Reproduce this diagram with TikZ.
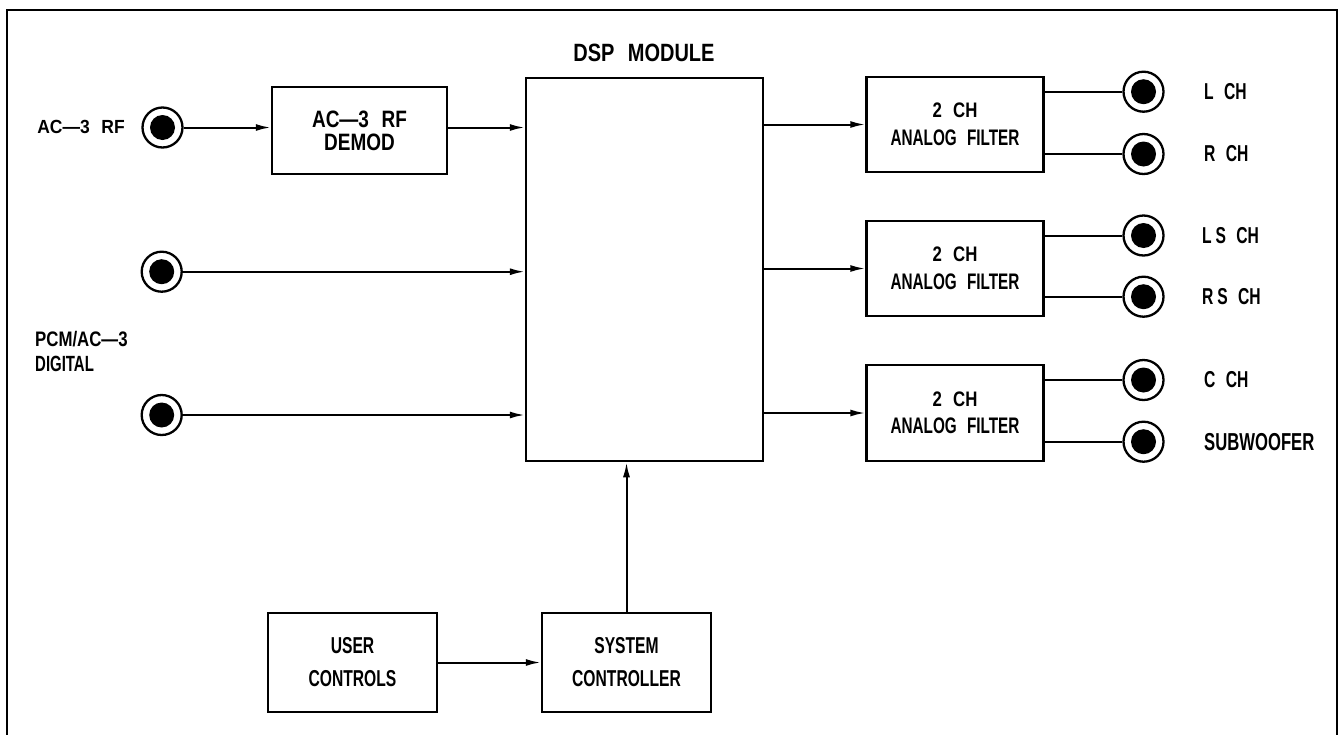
\documentclass[tikz,border=0pt]{standalone}
\usepackage{fontspec}
\newfontfamily\cadN{Liberation Sans}[FakeStretch=0.68, WordSpace=2.4]
\newfontfamily\cadM{Liberation Sans}[FakeStretch=0.8, WordSpace=2.4]
\newfontfamily\cadW{Liberation Sans}[FakeStretch=0.92, WordSpace=2.4]
\usetikzlibrary{arrows.meta}
\tikzset{
  box/.style={draw, line width=2.5pt, inner sep=0pt, align=center},
  jack/.style={circle, draw, line width=2.3pt, minimum size=40pt, inner sep=0pt,
    path picture={\fill (path picture bounding box.center) circle (12.5pt);}},
  conn/.style={line width=2pt},
  arr/.style={line width=2pt, -{Latex[length=15pt,width=7pt]}},
  filt/.style={box, minimum width=177pt, minimum height=95pt,
    font=\cadN\bfseries\fontsize{22.5}{27.5}\selectfont},
  ctl/.style={box, minimum width=169pt, minimum height=99pt,
    font=\cadN\bfseries\fontsize{23}{33}\selectfont},
  lab/.style={font=\cadN\bfseries\fontsize{23}{25}\selectfont, anchor=west, inner sep=0pt, align=left},
}
\begin{document}
\begin{tikzpicture}[x=1pt,y=-1pt]
\useasboundingbox (0,0) rectangle (1341,734);
% frame
\draw[line width=2.5pt] (7,736) -- (7,10) -- (1337,10) -- (1337,736);

% inputs
\node[jack] (jrf) at (162.5,127.5) {};
\node[font=\cadW\bfseries\fontsize{19}{22}\selectfont, inner sep=0pt] (lrf) at (81,127) {AC—3 RF};
\node[box, minimum width=175pt, minimum height=87pt,
  font=\cadM\bfseries\fontsize{23.7}{23.3}\selectfont] (demod) at (359.5,130.5) {AC—3 RF\\DEMOD};

\node[jack] (jd1) at (161.7,271.7) {};
\node[jack] (jd2) at (161.7,415) {};
\node[lab, font=\cadN\bfseries\fontsize{22}{25}\selectfont] (lpcm) at (35,351.5) {{\cadM\fontsize{21}{25}\selectfont PCM/AC—3}\\DIGITAL};

% DSP
\node[box, minimum width=237pt, minimum height=383pt] (dsp) at (644.5,269.5) {};
\node[font=\cadM\bfseries\fontsize{25}{25}\selectfont, inner sep=0pt] (dsplab) at (644,53) {DSP MODULE};

% filters
\node[filt] (f1) at (955,124.5) {{\cadM\fontsize{21}{27.5}\selectfont 2 CH}\\ANALOG FILTER};
\node[filt] (f2) at (955,268.5) {{\cadM\fontsize{21}{27.5}\selectfont 2 CH}\\ANALOG FILTER};
\node[filt, minimum height=96pt] (f3) at (955,413) {{\cadM\fontsize{21}{27.5}\selectfont 2 CH}\\ANALOG FILTER};

% outputs
\node[jack] (oL) at (1143.5,91.7) {};
\node[jack] (oR) at (1143.5,154) {};
\node[jack] (oLS) at (1143.5,235.5) {};
\node[jack] (oRS) at (1143.5,296.7) {};
\node[jack] (oC) at (1143.5,380) {};
\node[jack] (oSW) at (1143.5,441.7) {};
\node[lab] (tL) at (1204,91.7) {L CH};
\node[lab] (tR) at (1204,154) {R CH};
\node[lab] (tLS) at (1202,235.5) {L\,S CH};
\node[lab] (tRS) at (1202,296.7) {R\,S CH};
\node[lab] (tC) at (1204,380) {C CH};
\node[lab, font=\cadN\bfseries\fontsize{24.5}{25}\selectfont] (tSW) at (1204,441.7) {SUBWOOFER};

% control
\node[ctl] (user) at (352.5,662.5) {USER\\CONTROLS};
\node[ctl] (sys) at (626.5,662.5) {SYSTEM\\CONTROLLER};

% connectors
\draw[arr] (jrf) -- (jrf -| demod.west);
\draw[arr] (demod.east |- jrf) -- (jrf -| dsp.west);
\draw[arr] (jd1) -- (jd1 -| dsp.west);
\draw[arr] (jd2) -- (jd2 -| dsp.west);
\draw[arr] (dsp.east |- f1) -- (f1.west);
\draw[arr] (dsp.east |- f2) -- (f2.west);
\draw[arr] (dsp.east |- f3) -- (f3.west);
\draw[conn] (f1.east |- oL) -- (oL);
\draw[conn] (f1.east |- oR) -- (oR);
\draw[conn] (f2.east |- oLS) -- (oLS);
\draw[conn] (f2.east |- oRS) -- (oRS);
\draw[conn] (f3.east |- oC) -- (oC);
\draw[conn] (f3.east |- oSW) -- (oSW);
\draw[arr] (user) -- (sys);
\draw[arr] (sys.north) -- (sys.north |- dsp.south);
\end{tikzpicture}
\end{document}
